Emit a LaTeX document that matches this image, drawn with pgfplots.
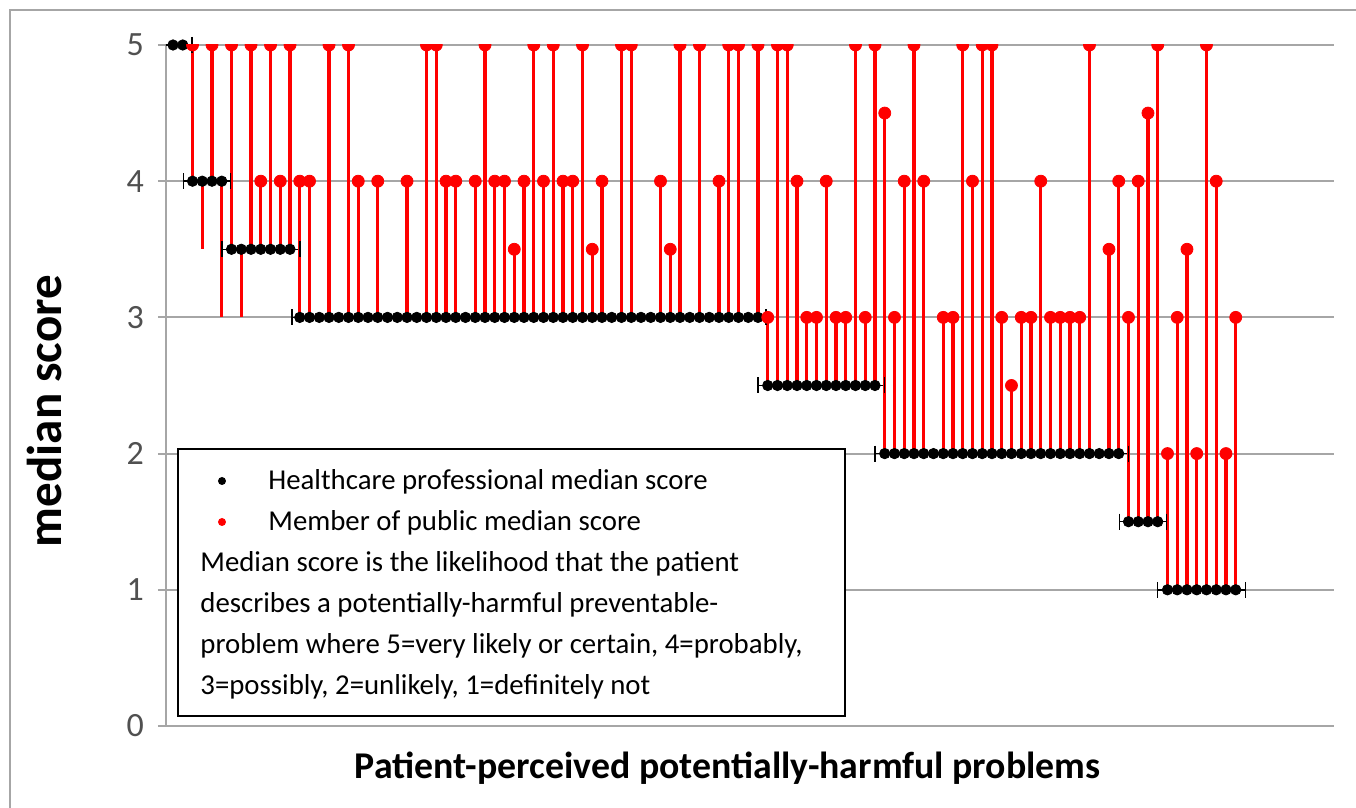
\documentclass[border=0pt]{standalone}
\usepackage{fontspec}
\setmainfont{Carlito}
\usepackage{pgfplots}
\pgfplotsset{compat=1.18}
\usepackage{pgfplotstable}
\definecolor{gridgray}{RGB}{166,166,166}
\definecolor{ticktext}{RGB}{80,80,80}
\definecolor{pubred}{RGB}{255,0,0}

\pgfplotstableread{
x hcp pub pm
0 5 5 nan
1 5 5 nan
2 4 5 5
3 4 3.5 nan
4 4 5 5
5 4 3 nan
6 3.5 5 5
7 3.5 3 nan
8 3.5 5 5
9 3.5 4 4
10 3.5 5 5
11 3.5 4 4
12 3.5 5 5
13 3 4 4
14 3 4 4
15 3 3 nan
16 3 5 5
17 3 3 nan
18 3 5 5
19 3 4 4
20 3 3 nan
21 3 4 4
22 3 3 nan
23 3 3 nan
24 3 4 4
25 3 3 nan
26 3 5 5
27 3 5 5
28 3 4 4
29 3 4 4
30 3 3 nan
31 3 4 4
32 3 5 5
33 3 4 4
34 3 4 4
35 3 3.5 3.5
36 3 4 4
37 3 5 5
38 3 4 4
39 3 5 5
40 3 4 4
41 3 4 4
42 3 5 5
43 3 3.5 3.5
44 3 4 4
45 3 3 nan
46 3 5 5
47 3 5 5
48 3 3 nan
49 3 3 nan
50 3 4 4
51 3 3.5 3.5
52 3 5 5
53 3 3 nan
54 3 5 5
55 3 3 nan
56 3 4 4
57 3 5 5
58 3 5 5
59 3 3 nan
60 3 5 5
61 2.5 3 3
62 2.5 5 5
63 2.5 5 5
64 2.5 4 4
65 2.5 3 3
66 2.5 3 3
67 2.5 4 4
68 2.5 3 3
69 2.5 3 3
70 2.5 5 5
71 2.5 3 3
72 2.5 5 5
73 2 4.5 4.5
74 2 3 3
75 2 4 4
76 2 5 5
77 2 4 4
78 2 2 nan
79 2 3 3
80 2 3 3
81 2 5 5
82 2 4 4
83 2 5 5
84 2 5 5
85 2 3 3
86 2 2.5 2.5
87 2 3 3
88 2 3 3
89 2 4 4
90 2 3 3
91 2 3 3
92 2 3 3
93 2 3 3
94 2 5 5
95 2 2 nan
96 2 3.5 3.5
97 2 4 4
98 1.5 3 3
99 1.5 4 4
100 1.5 4.5 4.5
101 1.5 5 5
102 1 2 2
103 1 3 3
104 1 3.5 3.5
105 1 2 2
106 1 5 5
107 1 4 4
108 1 2 2
109 1 3 3
}\data

\pgfplotsset{
  base/.style={
    at={(0pt,0pt)}, anchor=south west,
    scale only axis, width=584pt, height=340.5pt,
    xmin=-0.72, xmax=119.08, ymin=0, ymax=5,
  }
}

\begin{document}
\begin{tikzpicture}
\useasboundingbox (-83pt,-41pt) rectangle (595pt,363pt);
\draw[gridgray, line width=1pt] (-78pt,-60pt) -- (-78pt,358pt) -- (620pt,358pt);
\begin{axis}[
  base,
  axis lines=left,
  axis line style={-, draw=gridgray, line width=1pt},
  xtick=\empty,
  ytick={0,1,2,3,4,5},
  ymajorgrids,
  grid style={gridgray, line width=1pt},
  tick align=outside,
  major tick length=4pt,
  ytick style={gridgray, line width=1pt},
  /pgf/number format/assume math mode=true,
  yticklabel style={font=\fontsize{17}{20}\selectfont, text=ticktext, xshift=-3.5pt},
  ylabel={median score},
  ylabel style={font=\fontsize{24.5}{28}\selectfont\bfseries, at={(axis description cs:-0.1036,0.4626)}, anchor=center},
  xlabel={Patient-perceived potentially-harmful problems},
  xlabel style={font=\fontsize{18.9}{22}\selectfont\bfseries, at={(axis description cs:0.481,-0.0617)}, anchor=center},
]
% group ranges of healthcare professional medians
\addplot[black, line width=0.75pt, mark=|, mark size=4pt, mark options={line width=0.75pt}, unbounded coords=jump] coordinates {
(-0.95,5) (1.95,5) (nan,nan)
(1.1,4) (5.9,4) (nan,nan)
(5.0,3.5) (13.0,3.5) (nan,nan)
(12.2,3) (60.8,3) (nan,nan)
(60.0,2.5) (73.0,2.5) (nan,nan)
(72.0,2) (98.0,2) (nan,nan)
(97.1,1.5) (101.9,1.5) (nan,nan)
(101.0,1) (110.0,1)
};
% connecting red lines
\addplot[only marks, mark=none, error bars/.cd, y dir=both, y explicit, error mark=none,
  error bar style={draw=pubred, line width=1.6pt}]
  table[x=x, y=hcp, y error plus expr={max(\thisrow{pub}-\thisrow{hcp},0)}, y error minus expr={max(\thisrow{hcp}-\thisrow{pub},0)}] {\data};
% healthcare professional medians
\addplot[only marks, mark=*, mark size=2.6pt, black, mark options={fill=black, draw=black}] table[x=x, y=hcp] {\data};
\end{axis}
% member of public medians, clipped to the plot area like the original
\begin{axis}[
  base, hide axis, clip marker paths=true,
]
\addplot[only marks, mark=*, mark size=3pt, pubred, mark options={fill=pubred, draw=pubred}, unbounded coords=discard] table[x=x, y=pm] {\data};
\end{axis}
% legend
\draw[black, line width=1pt, fill=white] (6pt,5pt) rectangle (339.5pt,138.5pt);
\fill[black] (28pt,122.5pt) circle (2pt);
\fill[pubred] (28pt,102pt) circle (2pt);
\begin{scope}[every node/.style={inner sep=0pt, anchor=base west, font=\fontsize{14.4}{17}\selectfont}]
\node at (51pt,118pt) {Healthcare professional median score};
\node at (51pt,97.5pt) {Member of public median score};
\node at (17pt,77pt) {Median score is the likelihood that the patient};
\node at (17pt,56.5pt) {describes a potentially-harmful preventable-};
\node at (17pt,36pt) {problem where 5=very likely or certain, 4=probably,};
\node at (17pt,15.5pt) {3=possibly, 2=unlikely, 1=definitely not};
\end{scope}
\end{tikzpicture}
\end{document}
